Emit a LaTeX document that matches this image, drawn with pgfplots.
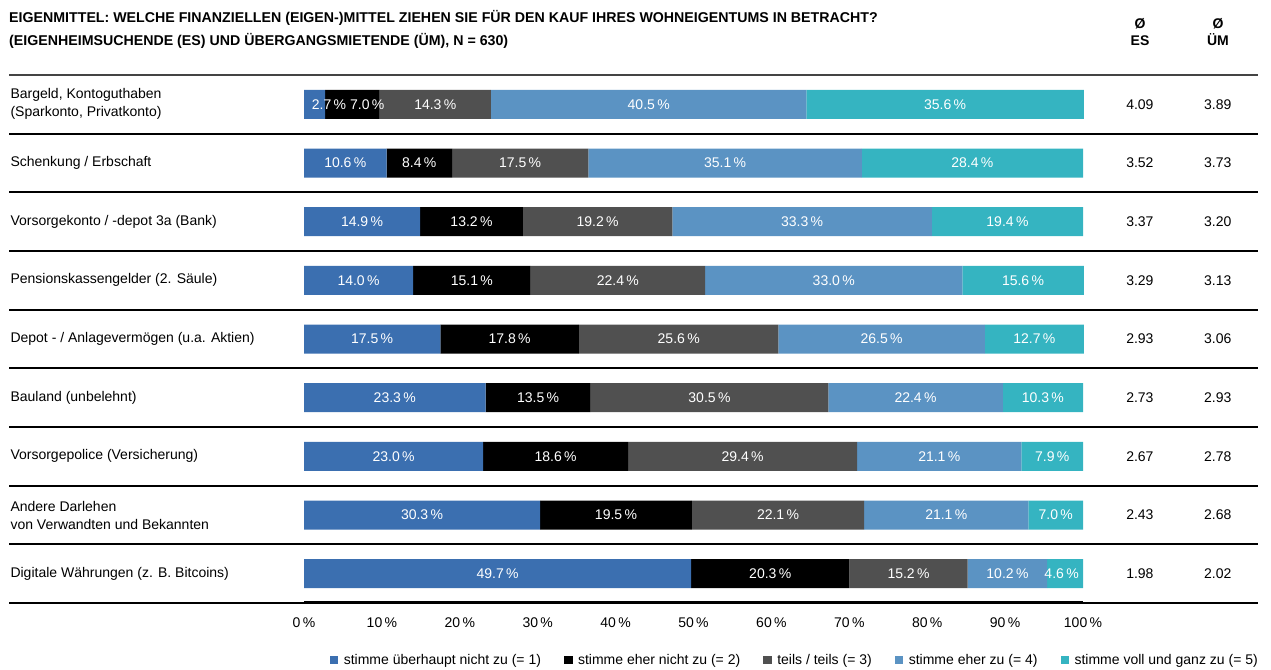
\documentclass[border=0pt]{standalone}
\usepackage{pgfplots}
\pgfplotsset{compat=1.18}
\usepackage{pgfplotstable}
\usepackage{fontspec}
\setmainfont{Liberation Sans}

\definecolor{c1}{HTML}{3B6FB0}
\definecolor{c2}{HTML}{000000}
\definecolor{c3}{HTML}{505050}
\definecolor{c4}{HTML}{5B93C3}
\definecolor{c5}{HTML}{35B4C1}
\definecolor{sep}{HTML}{444444}

% values in %, s* = label nudge in px for crowded labels
\pgfplotstableread{
row a b c d e sa sb se
1 2.7 7.0 14.3 40.5 35.6 14.5 15 0
2 10.6 8.4 17.5 35.1 28.4 0 0 0
3 14.9 13.2 19.2 33.3 19.4 0 0 0
4 14.0 15.1 22.4 33.0 15.6 0 0 0
5 17.5 17.8 25.6 26.5 12.7 0 0 0
6 23.3 13.5 30.5 22.4 10.3 0 0 0
7 23.0 18.6 29.4 21.1 7.9 0 0 0
8 30.3 19.5 22.1 21.1 7.0 0 0 0
9 49.7 20.3 15.2 10.2 4.6 0 0 -3.5
}\datatable

\newcommand\lbl{\fontsize{14}{18}\selectfont}

\pgfplotsset{
  frame/.style={
    at={(304pt,66pt)}, anchor=south west,
    scale only axis, width=779pt, height=528pt,
    xmin=0, xmax=100, ymin=0.5, ymax=9.5, y dir=reverse,
    xbar stacked, bar width=29pt, clip=false,
    every axis plot/.append style={draw=none},
  },
  nudged/.style={
    visualization depends on={\thisrow{#1} \as \nudge},
    every node near coord/.append style={xshift=\nudge pt}},
}

\begin{document}
\begin{tikzpicture}
\path[use as bounding box] (0,0) rectangle (1271pt,669pt);

% title and column heads
\node[anchor=west, align=left, inner sep=0pt, font=\fontsize{14.2}{23}\selectfont\bfseries]
  at (9pt,639.5pt) {EIGENMITTEL: WELCHE FINANZIELLEN (EIGEN-)MITTEL ZIEHEN SIE FÜR DEN KAUF IHRES WOHNEIGENTUMS IN BETRACHT?\\(EIGENHEIMSUCHENDE (ES) UND ÜBERGANGSMIETENDE (ÜM), N = 630)};
\node[align=center, inner sep=0pt, font=\fontsize{14}{17}\selectfont\bfseries] at (1140pt,636.5pt) {Ø\\ES};
\node[align=center, inner sep=0pt, font=\fontsize{14}{17}\selectfont\bfseries] at (1218pt,636.5pt) {Ø\\ÜM};

% row separators
\draw[sep, line width=2pt] (9pt,594pt) -- (1258pt,594pt);
\foreach \k in {1,...,8}
  \draw[black, line width=1.1pt] (9pt,{round(594-58.667*\k)*1pt}) -- (1258pt,{round(594-58.667*\k)*1pt});
\draw[black, line width=1.1pt] (9pt,66pt) -- (1258pt,66pt);
\draw[black, line width=3pt] (304pt,66pt) -- (1083pt,66pt);

% bars
\begin{axis}[
  frame,
  axis line style={draw=none}, major tick length=0pt,
  /pgf/number format/assume math mode=true,
  font=\lbl,
  xtick={0,10,...,100},
  xticklabel={\pgfmathprintnumber{\tick}\,\%},
  xticklabel style={anchor=base, yshift=-24pt},
  ytick={1,...,9},
  yticklabels={
    {Bargeld, Kontoguthaben\\(Sparkonto, Privatkonto)},
    {Schenkung / Erbschaft},
    {Vorsorgekonto / -depot 3a (Bank)},
    {Pensionskassengelder (2. Säule)},
    {Depot - / Anlagevermögen (u.a. Aktien)},
    {Bauland (unbelehnt)},
    {Vorsorgepolice (Versicherung)},
    {Andere Darlehen\\von Verwandten und Bekannten},
    {Digitale Währungen (z. B. Bitcoins)}},
  yticklabel style={anchor=west, align=left, xshift=-297pt, font=\lbl},
  legend style={at={(1.2272,-0.108)}, anchor=east, draw=none, legend columns=5,
    font=\lbl, inner sep=0pt,
    /tikz/every odd column/.append style={column sep=3.5pt},
    /tikz/every even column/.append style={column sep=21pt}},
  legend image code/.code={\fill[#1] (0pt,-4pt) rectangle (8.5pt,4pt);},
]
\addplot[fill=c1] table[x=a, y=row] \datatable;
\addplot[fill=c2] table[x=b, y=row] \datatable;
\addplot[fill=c3] table[x=c, y=row] \datatable;
\addplot[fill=c4] table[x=d, y=row] \datatable;
\addplot[fill=c5] table[x=e, y=row] \datatable;
\legend{stimme überhaupt nicht zu (= 1), stimme eher nicht zu (= 2), teils / teils (= 3), stimme eher zu (= 4), stimme voll und ganz zu (= 5)}

\node at (axis cs:107.3,1) {4.09}; \node at (axis cs:117.3,1) {3.89};
\node at (axis cs:107.3,2) {3.52}; \node at (axis cs:117.3,2) {3.73};
\node at (axis cs:107.3,3) {3.37}; \node at (axis cs:117.3,3) {3.20};
\node at (axis cs:107.3,4) {3.29}; \node at (axis cs:117.3,4) {3.13};
\node at (axis cs:107.3,5) {2.93}; \node at (axis cs:117.3,5) {3.06};
\node at (axis cs:107.3,6) {2.73}; \node at (axis cs:117.3,6) {2.93};
\node at (axis cs:107.3,7) {2.67}; \node at (axis cs:117.3,7) {2.78};
\node at (axis cs:107.3,8) {2.43}; \node at (axis cs:117.3,8) {2.68};
\node at (axis cs:107.3,9) {1.98}; \node at (axis cs:117.3,9) {2.02};
\end{axis}

% segment labels, on top of all bars
\begin{axis}[
  frame, hide axis,
  /pgf/number format/assume math mode=true,
  nodes near coords={\pgfmathprintnumber[fixed,fixed zerofill,precision=1]{\pgfplotspointmeta}\,\%},
  every node near coord/.style={anchor=center, text=white, font=\lbl},
  every axis plot/.append style={fill=none, point meta=explicit},
]
\addplot[fill=none, nudged=sa] table[x=a, y=row, meta=a] \datatable;
\addplot[fill=none, nudged=sb] table[x=b, y=row, meta=b] \datatable;
\addplot[fill=none] table[x=c, y=row, meta=c] \datatable;
\addplot[fill=none] table[x=d, y=row, meta=d] \datatable;
\addplot[fill=none, nudged=se] table[x=e, y=row, meta=e] \datatable;
\end{axis}
\end{tikzpicture}
\end{document}
